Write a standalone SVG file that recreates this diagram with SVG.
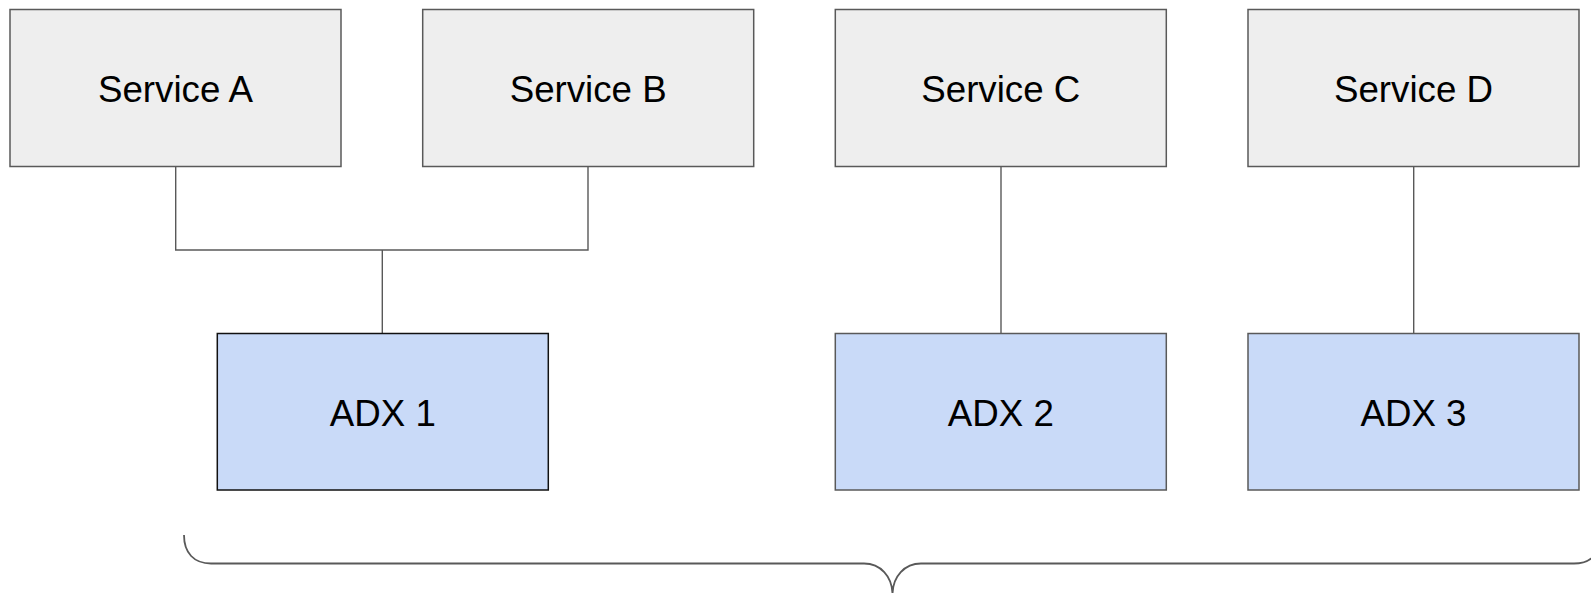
<svg xmlns="http://www.w3.org/2000/svg" width="1591" height="593" viewBox="0 0 1591 593">
<style>
.svc rect{fill:#eeeeee;stroke:#595959;stroke-width:1.5}
.adx rect{fill:#c9daf8;stroke:#595959;stroke-width:1.5}
#adx1 rect{stroke:#111111}
text{font-family:"Liberation Sans",Arial,sans-serif;font-size:36.7px;fill:#000;text-anchor:middle}
.conn{fill:none;stroke:#595959;stroke-width:1.4}
.brace{fill:none;stroke:#595959;stroke-width:1.8}
</style>
<rect width="1591" height="593" fill="#ffffff"/>
<g id="connectors">
<path class="conn" d="M175.7,166.5V250H588V166.5"/>
<path class="conn" d="M382.3,250V333.5"/>
<path class="conn" d="M1001,166.5V333.5"/>
<path class="conn" d="M1413.7,166.5V333.5"/>
</g>
<g id="serviceA" class="svc"><rect x="10" y="9.5" width="331" height="157"/><text x="175.5" y="101.7">Service A</text></g>
<g id="serviceB" class="svc"><rect x="422.7" y="9.5" width="331" height="157"/><text x="588.2" y="101.7">Service B</text></g>
<g id="serviceC" class="svc"><rect x="835.3" y="9.5" width="331" height="157"/><text x="1000.8" y="101.7">Service C</text></g>
<g id="serviceD" class="svc"><rect x="1248" y="9.5" width="331" height="157"/><text x="1413.5" y="101.7">Service D</text></g>
<g id="adx1" class="adx"><rect x="217.3" y="333.5" width="331" height="156.5"/><text x="382.8" y="426">ADX 1</text></g>
<g id="adx2" class="adx"><rect x="835.3" y="333.5" width="331" height="156.5"/><text x="1000.8" y="426">ADX 2</text></g>
<g id="adx3" class="adx"><rect x="1248" y="333.5" width="331" height="156.5"/><text x="1413.5" y="426">ADX 3</text></g>
<g id="brace">
<path class="brace" d="M184,535C184,553 194,563.5 211,563.5H864C880,563.5 892.5,576 892.5,595M892.5,595C892.5,576 905,563.5 921,563.5H1574C1591,563.5 1601,553 1601,535"/>
</g>
</svg>
